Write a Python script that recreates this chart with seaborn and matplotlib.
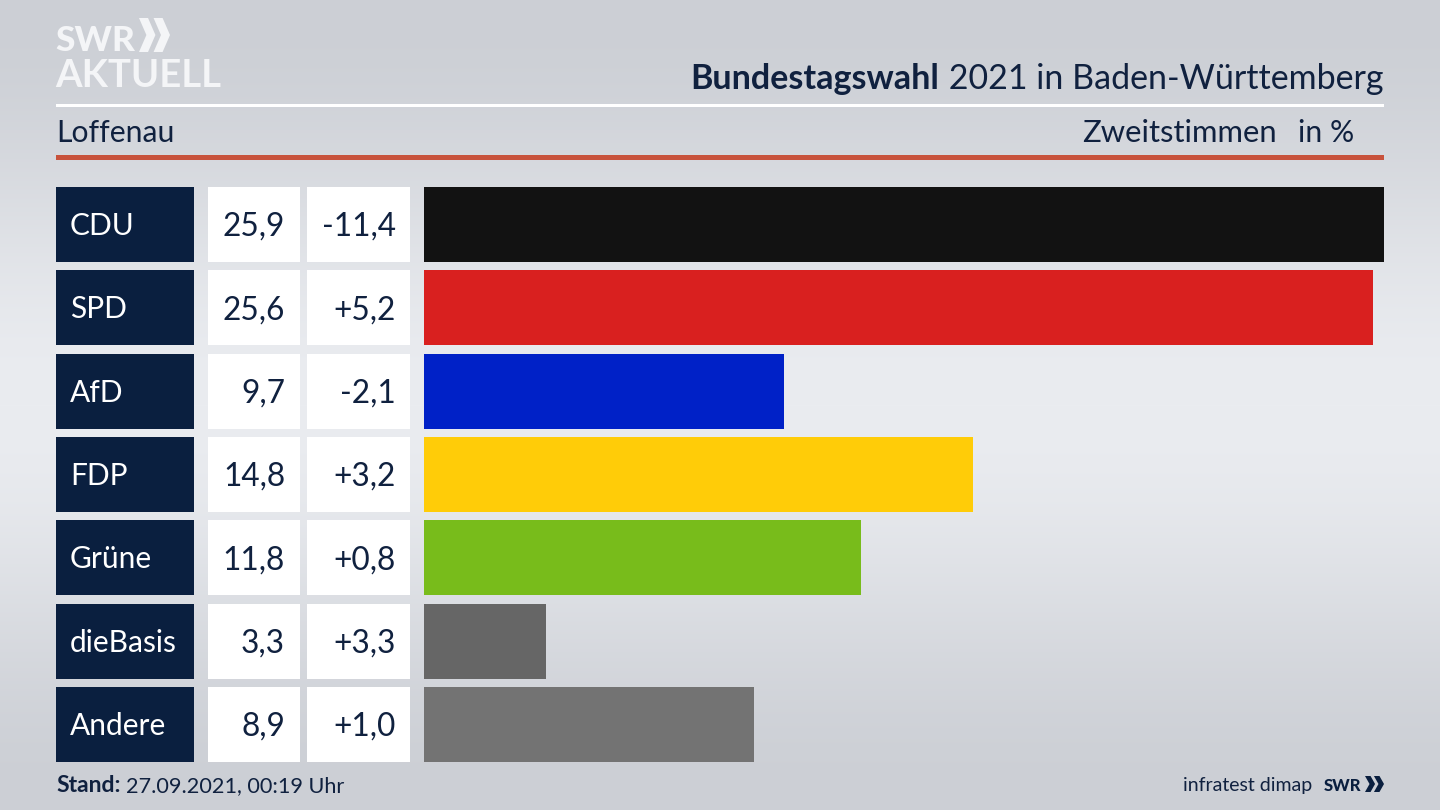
import matplotlib
matplotlib.use("Agg")
import matplotlib.pyplot as plt
from matplotlib.patches import Polygon, Rectangle
import numpy as np
import pandas as pd
import seaborn as sns

# data
parties = ["CDU", "SPD", "AfD", "FDP", "Grüne", "dieBasis", "Andere"]
shares = [25.9, 25.6, 9.7, 14.8, 11.8, 3.3, 8.9]
changes = [-11.4, 5.2, -2.1, 3.2, 0.8, 3.3, 1.0]
bar_colors = ["#121212", "#d9201f", "#0021c7", "#ffcc08", "#78bc1b", "#666666", "#737373"]

NAVY = "#0a1f3f"
TEXT = "#10213f"
W, H = 1440, 810
FONT = "Lato"

sns.set_theme(style="white")
plt.rcParams["font.family"] = [FONT, "DejaVu Sans"]

fig = plt.figure(figsize=(W / 100, H / 100), dpi=100)

# hintergrund, koordinaten in pixeln
bg = fig.add_axes([0, 0, 1, 1])
bg.set_xlim(0, W)
bg.set_ylim(H, 0)
bg.axis("off")
grad = 0.5 - 0.5 * np.cos(2 * np.pi * np.arange(H) / H)
grad = grad.reshape(-1, 1)
top_col = np.array([0xcc, 0xcf, 0xd5]) / 255
mid_col = np.array([0xea, 0xec, 0xf0]) / 255
img = top_col + grad[..., None] * (mid_col - top_col)
bg.imshow(img, extent=[0, W, H, 0], aspect="auto", zorder=0)

# linien
bg.add_patch(Rectangle((56, 104), 1328, 3, color="white", lw=0))
bg.add_patch(Rectangle((56, 155), 1328, 5, color="#c8523c", lw=0))

# balken
row_top, row_pitch, row_h = 187, 83.3, 75
ax_top = row_top - (row_pitch - row_h) / 2
ax_h = row_pitch * len(parties)
ax = fig.add_axes([424 / W, 1 - (ax_top + ax_h) / H, 960 / W, ax_h / H])
ax.patch.set_alpha(0)
df = pd.DataFrame({"party": parties, "share": shares})
sns.barplot(data=df, x="share", y="party", hue="party", order=parties, hue_order=parties,
            palette=bar_colors, width=row_h / row_pitch, saturation=1, legend=False,
            linewidth=0, edgecolor="none", ax=ax)
ax.set_xlim(0, max(shares))
ax.set_ylim(len(parties) - 0.5, -0.5)
ax.axis("off")

# tabelle links
for i, party in enumerate(parties):
    y = row_top + i * row_pitch
    bg.add_patch(Rectangle((56, y), 137.5, row_h, color=NAVY, lw=0))
    bg.add_patch(Rectangle((208, y), 92, row_h, color="white", lw=0))
    bg.add_patch(Rectangle((307, y), 103, row_h, color="white", lw=0))
    base = y + 48
    bg.text(70, base, party, color="white", fontsize=21.5, va="baseline")
    bg.text(285, base + 1, f"{shares[i]:.1f}".replace(".", ","), color=TEXT, fontsize=22.8,
            ha="right", va="baseline")
    bg.text(396, base + 1, f"{changes[i]:+.1f}".replace(".", ","), color=TEXT, fontsize=22.8,
            ha="right", va="baseline")

# kopfzeile
t = bg.text(1383, 89, " 2021 in Baden-Württemberg", color=TEXT, fontsize=24.5, ha="right", va="baseline")
fig.canvas.draw()
x0 = t.get_window_extent().x0
bg.text(x0, 89, "Bundestagswahl", color=TEXT, fontsize=24.5, fontweight="bold", ha="right", va="baseline")
bg.text(56, 142, "Loffenau", color=TEXT, fontsize=21.7, va="baseline")
bg.text(1277, 142, "Zweitstimmen", color=TEXT, fontsize=22.3, ha="right", va="baseline")
bg.text(1354, 142, "in %", color=TEXT, fontsize=21.7, ha="right", va="baseline")

# logo
bg.text(55, 51, "SWR", color="#f4f5f7", fontsize=25.5, fontweight="black", va="baseline")
bg.text(55, 87, "AKTUELL", color="#f4f5f7", fontsize=27.5, fontweight="bold", va="baseline")


def chevrons(x, y, w, h, color):
    # zwei pfeile wie im SWR logo
    step = w * 0.47
    wing = w * 0.53
    for k in range(2):
        xs = x + k * step
        pts = [(xs, y), (xs + wing * 0.55, y), (xs + wing, y + h / 2),
               (xs + wing * 0.55, y + h), (xs, y + h), (xs + wing * 0.45, y + h / 2)]
        bg.add_patch(Polygon(pts, closed=True, color=color, lw=0))


chevrons(139, 18, 31, 34, "#f4f5f7")

# fusszeile
bg.text(56, 792, "Stand:", color=TEXT, fontsize=16.5, fontweight="bold", va="baseline")
bg.text(126, 792, "27.09.2021, 00:19 Uhr", color=TEXT, fontsize=15.6, va="baseline")
bg.text(1312, 791, "infratest dimap", color=TEXT, fontsize=14, ha="right", va="baseline")
bg.text(1324, 791, "SWR", color=NAVY, fontsize=12, fontweight="black", va="baseline")
chevrons(1365, 776, 19, 16, NAVY)

fig.savefig("out.png", dpi=100)
